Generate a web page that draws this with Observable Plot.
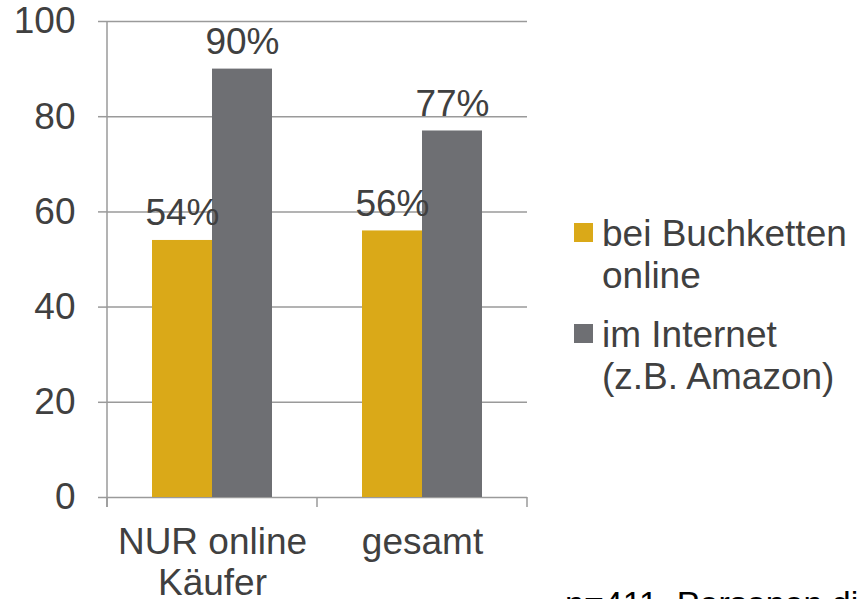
<!DOCTYPE html>
<html><head><meta charset="utf-8">
<script src="https://cdn.jsdelivr.net/npm/d3@7"></script>
<script src="https://cdn.jsdelivr.net/npm/@observablehq/plot@0.6"></script>
<style>
html,body{margin:0;padding:0;background:#fff;width:859px;height:599px;overflow:hidden;font-family:Arial,"Liberation Sans",sans-serif;}
#wrap{position:relative;width:859px;height:599px;overflow:hidden;}
#chart{position:absolute;left:0;top:0;}
.item{position:absolute;left:574px;font-size:37px;line-height:42px;color:#404040;}
.item .sw{position:absolute;left:0;top:10px;width:19px;height:19px;}
.item .tx{position:absolute;left:28px;top:0;white-space:nowrap;}
#caption{position:absolute;left:565px;top:584px;font-size:34px;color:#000;white-space:nowrap;}
</style>
</head><body>
<div id="wrap">
  <div id="chart"></div>
  <div id="legend"></div>
  <div id="caption">n=411, Personen die</div>
</div>
<script>
const categories = ["NUR online Käufer", "gesamt"];
const series = ["bei Buchketten online", "im Internet (z.B. Amazon)"];
const legendLines = [["bei Buchketten", "online"], ["im Internet", "(z.B. Amazon)"]];
const buchketten = [54, 56];
const internet = [90, 77];
const yTicks = [0, 20, 40, 60, 80, 100];
const colors = ["#DAA918", "#6E6F73"];

const data = categories.flatMap((c, i) => [
  {cat: c, series: series[0], value: buchketten[i]},
  {cat: c, series: series[1], value: internet[i]}
]);

const plot = Plot.plot({
  width: 540, height: 599,
  marginLeft: 107, marginRight: 13, marginTop: 21, marginBottom: 102,
  style: {fontFamily: "Arial, 'Liberation Sans', sans-serif", color: "#404040", background: "transparent", overflow: "visible"},
  fx: {domain: categories, padding: 0, label: null},
  x: {domain: series, paddingInner: 0, paddingOuter: 0.75, axis: null},
  y: {domain: [0, 100], axis: null},
  color: {domain: series, range: colors},
  marks: [
    Plot.gridY(yTicks, {stroke: "#9a9a9a", strokeOpacity: 1, strokeWidth: 1.5}),
    Plot.axisY(yTicks, {tickSize: 9, stroke: "#9a9a9a", strokeWidth: 1.5, strokeOpacity: 1, fontSize: 37, fill: "#404040", tickPadding: 23, label: null}),
    Plot.barY(data, {fx: "cat", x: "series", y: "value", fill: "series"}),
    Plot.text(data, {fx: "cat", x: "series", y: "value", text: d => d.value + "%", dy: -27, fontSize: 37, fill: "#404040"}),
    Plot.axisFx({anchor: "bottom", tickSize: 0, tickPadding: 27, fontSize: 37, fill: "#404040", lineHeight: 1.12,
      tickFormat: d => d.replace(" Käufer", "\nKäufer"), label: null})
  ]
});

// axis line and category boundary ticks from the plot's own scales
const fxs = plot.scale("fx"), ys = plot.scale("y");
const [x0, x1] = fxs.range;
const [yb, yt] = ys.range;
const g = d3.select(plot).append("g").attr("stroke", "#9a9a9a").attr("stroke-width", 1.5);
g.append("line").attr("x1", x0).attr("x2", x0).attr("y1", yt).attr("y2", yb + 10);
const step = (x1 - x0) / categories.length;
d3.range(categories.length + 1).forEach(i => {
  const x = x0 + i * step;
  g.append("line").attr("x1", x).attr("x2", x).attr("y1", yb).attr("y2", yb + 10);
});
document.getElementById("chart").appendChild(plot);

// legend
const legendTops = [213, 314];
const lg = document.getElementById("legend");
series.forEach((s, i) => {
  const it = document.createElement("div");
  it.className = "item";
  it.style.top = legendTops[i] + "px";
  it.innerHTML = `<div class="sw" style="background:${colors[i]}"></div><div class="tx">${legendLines[i].join("<br>")}</div>`;
  lg.appendChild(it);
});
</script>
</body></html>
